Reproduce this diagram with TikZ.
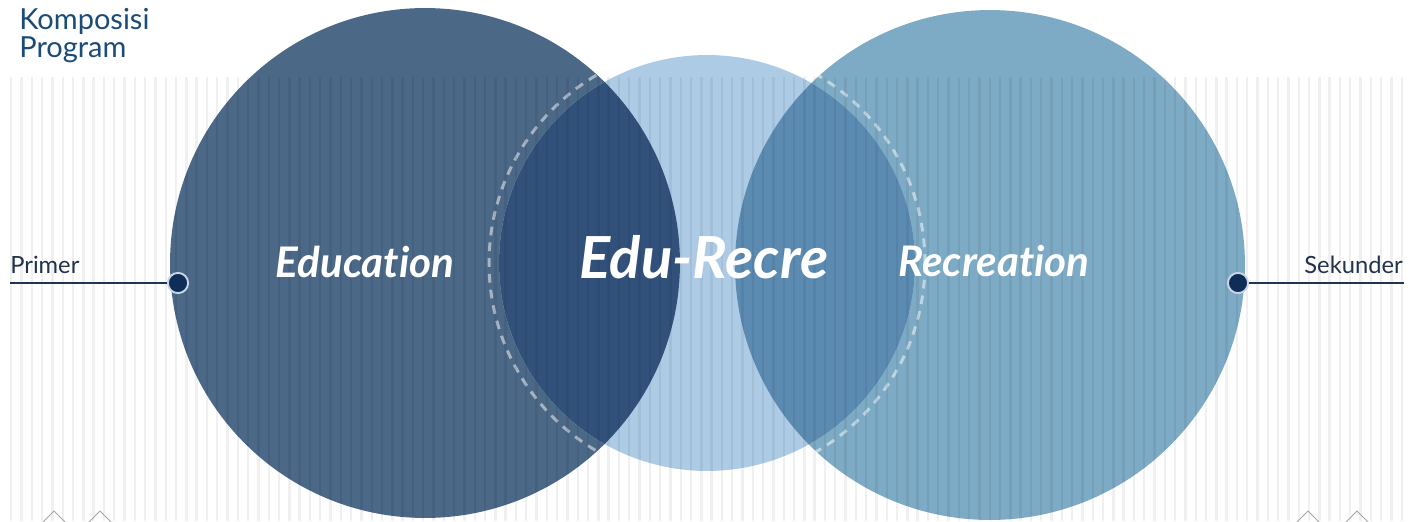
\documentclass[tikz,border=0pt]{standalone}
\usepackage{fontspec}
\setmainfont{Lato}[Ligatures=NoCommon]
\usepackage{tikz}
\usetikzlibrary{positioning}
\definecolor{title}{HTML}{1B4B77}
\definecolor{side}{HTML}{22334A}
\definecolor{edu}{HTML}{4B6887}
\definecolor{mid}{HTML}{AECBE6}
\definecolor{rec}{HTML}{7DAAC4}
\definecolor{edumid}{HTML}{31517A}
\definecolor{recmid}{HTML}{5B8BB1}
\definecolor{axis}{HTML}{1E3556}
\definecolor{dotfill}{HTML}{0E2D57}
\definecolor{dotring}{HTML}{C8D6E6}
\tikzset{
  stripe/.style={fill=black, fill opacity=0.06},
  ring/.style={draw=white, draw opacity=0.5, line width=1.7pt, dash pattern=on 5pt off 4pt},
  big/.style={text=white, font=\fontsize{24}{28}\selectfont\bfseries\itshape},
  huge/.style={text=white, font=\fontsize{33}{36}\selectfont\bfseries\itshape},
  sidelab/.style={text=side, font=\fontsize{13.5}{16}\selectfont},
  conn/.style={draw=axis, line width=1.7pt},
  dot/.style={circle, fill=dotfill, draw=dotring, line width=1.1pt, minimum size=11.5pt, inner sep=0pt},
  tick/.style={draw=gray!70, line width=0.5pt},
}

\begin{document}
\begin{tikzpicture}[x=0.02cm, y=-0.02cm]
\useasboundingbox (0,0) rectangle (1420,521);

% circle centres
\coordinate (lc) at (425,263);
\coordinate (mc) at (707,263);
\coordinate (rc) at (990,265);

% circles
\fill[edu] (lc) circle (5.1cm);
\fill[rec] (rc) circle (5.1cm);
\fill[mid] (mc) circle (4.16cm);
\begin{scope}
\clip (lc) circle (5.1cm);
\fill[edumid] (mc) circle (4.16cm);
\end{scope}
\begin{scope}
\clip (rc) circle (5.1cm);
\fill[recmid] (mc) circle (4.16cm);
\end{scope}
\draw[ring] (mc) circle (4.36cm);

% stripes
\foreach \i in {0,...,135}
  \fill[stripe] ({10+\i*10.3},77) rectangle ++(2.4,444);

% small marks at the bottom
\foreach \x in {54,100,1308,1357}
  \draw[tick] (\x-12,523) -- (\x,511) -- (\x+12,523);

% labels
\node[big, anchor=base] (educ) at (365,277) {Education};
\node[huge, anchor=base] (edurec) at (704,278) {Edu-Recre};
\node[big, anchor=base] (recr) at (994,276) {Recreation};

\node[text=title, font=\fontsize{16.5}{16}\selectfont, align=left, anchor=north west, inner sep=0pt] (komp) at (19,8) {Komposisi\\Program};

% primer / sekunder
\coordinate (pend) at (10,283);
\coordinate (send) at (1404,283);
\node[dot] (pdot) at (178,283) {};
\node[dot] (sdot) at (1238,283) {};
\draw[conn] (pend) -- (pdot);
\draw[conn] (sdot) -- (send);
\node[sidelab, anchor=base west, inner sep=0pt] (prim) at (10,273) {Primer};
\node[sidelab, anchor=base east, inner sep=0pt] (sek) at (1403,273) {Sekunder};
\end{tikzpicture}
\end{document}
